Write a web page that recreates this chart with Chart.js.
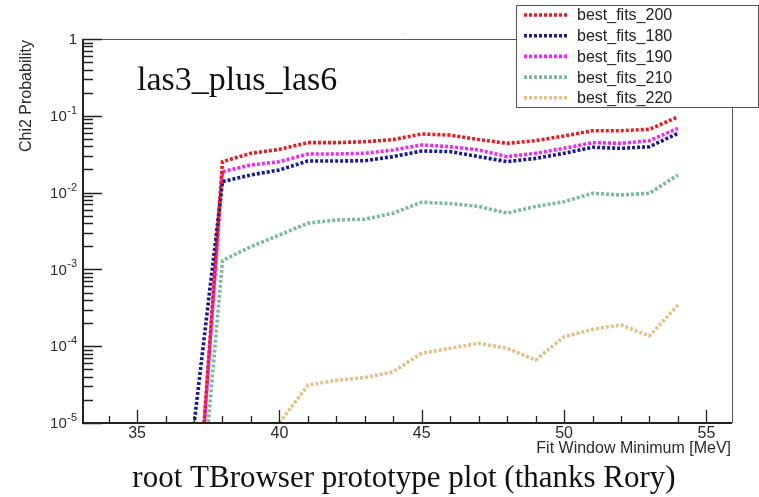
<!DOCTYPE html>
<html>
<head>
<meta charset="utf-8">
<script src="https://cdn.jsdelivr.net/npm/chart.js@4.4.1/dist/chart.umd.min.js"></script>
<style>
  body { margin: 0; background: #fff; }
  canvas { display: block; }
</style>
</head>
<body>
<canvas id="plot" width="759" height="497"></canvas>
<script>
// fit window minimum [MeV]
const fitMin = [35, 36, 37, 38, 39, 40, 41, 42, 43, 44, 45, 46, 47, 48, 49, 50, 51, 52, 53, 54]

// chi2 probability per fit set (null = not drawn)
const fits200 = [null, null, 1.3e-7, 0.0253, 0.0325, 0.0366, 0.0447, 0.0447, 0.046, 0.049, 0.058,
    0.056, 0.049, 0.0438, 0.0474, 0.0546, 0.064, 0.064, 0.0667, 0.097]
const fits180 = [null, null, 9.5e-6, 0.0139, 0.017, 0.0197, 0.0258, 0.0258, 0.026, 0.0294, 0.0348,
    0.0342, 0.0294, 0.0253, 0.0279, 0.0325, 0.0389, 0.0377, 0.0396, 0.059]
const fits190 = [null, null, 1.4e-7, 0.0187, 0.0229, 0.0253, 0.0318, 0.0318, 0.0325, 0.0359, 0.0417,
    0.0396, 0.0359, 0.0294, 0.0325, 0.0377, 0.0447, 0.0438, 0.0474, 0.0687]
const fits210 = [null, null, 7.4e-8, 0.0013, 0.00198, 0.0028, 0.004, 0.0044, 0.0045, 0.0054, 0.0075,
    0.0072, 0.0066, 0.0054, 0.0066, 0.0076, 0.0098, 0.0093, 0.0098, 0.017]
const fits220 = [null, null, null, null, null, 1.0e-5, 3.1e-5, 3.6e-5, 3.9e-5, 4.65e-5, 8.1e-5,
    9.4e-5, 1.09e-4, 9.4e-5, 6.6e-5, 1.33e-4, 1.66e-4, 1.89e-4, 1.36e-4, 3.44e-4]

const yDecades = [1, 1e-1, 1e-2, 1e-3, 1e-4, 1e-5]
const xMajor = [35, 40, 45, 50, 55]

const series = [
    { label: 'best_fits_200', values: fits200, color: '#e61d25' },
    { label: 'best_fits_180', values: fits180, color: '#1c1a8c' },
    { label: 'best_fits_190', values: fits190, color: '#ec2bec' },
    { label: 'best_fits_210', values: fits210, color: '#80b89d' },
    { label: 'best_fits_220', values: fits220, color: '#e3c08c' }
]

const SANS = '"Liberation Sans", Arial, Helvetica, sans-serif'
const SERIF = '"Liberation Serif", "Times New Roman", serif'

// ROOT-like frame: inward ticks, superscript decade labels, legend box and texts
const rootFrame = {
    id: 'rootFrame',
    beforeDraw(chart) {
        const ctx = chart.ctx
        ctx.save()
        ctx.fillStyle = '#fff'
        ctx.fillRect(0, 0, chart.width, chart.height)
        ctx.restore()
    },
    afterDraw(chart) {
        const ctx = chart.ctx
        const area = chart.chartArea
        const xs = chart.scales.x
        const ys = chart.scales.y
        ctx.save()

        // thin top and right frame
        ctx.strokeStyle = '#555'
        ctx.lineWidth = 1
        ctx.beginPath()
        ctx.moveTo(area.left, area.top + 0.5)
        ctx.lineTo(area.right + 0.5, area.top + 0.5)
        ctx.lineTo(area.right + 0.5, area.bottom)
        ctx.stroke()

        // main axes
        ctx.strokeStyle = '#222'
        ctx.lineWidth = 2
        ctx.beginPath()
        ctx.moveTo(area.left, area.top)
        ctx.lineTo(area.left, area.bottom)
        ctx.lineTo(area.right, area.bottom)
        ctx.stroke()

        // y ticks: decades and 2..9 minors
        ctx.lineWidth = 1.3
        ctx.beginPath()
        yDecades.forEach(d => {
            const py = Math.round(ys.getPixelForValue(d)) + 0.5
            ctx.moveTo(area.left, py)
            ctx.lineTo(area.left + 19, py)
            if (d < 1) {
                for (let m = 2; m <= 9; m++) {
                    const my = Math.round(ys.getPixelForValue(d * m)) + 0.5
                    ctx.moveTo(area.left, my)
                    ctx.lineTo(area.left + 10, my)
                }
            }
        })
        // x ticks on every integer
        for (let v = Math.ceil(xs.min); v <= xs.max; v++) {
            const px = Math.round(xs.getPixelForValue(v)) + 0.5
            const len = v % 5 === 0 ? 13 : 7
            ctx.moveTo(px, area.bottom)
            ctx.lineTo(px, area.bottom - len)
        }
        ctx.stroke()

        // y labels
        ctx.fillStyle = '#2a2a2a'
        ctx.textAlign = 'right'
        ctx.textBaseline = 'middle'
        const labelRight = area.left - 6
        yDecades.forEach(d => {
            const py = ys.getPixelForValue(d)
            if (d === 1) {
                ctx.font = '15px ' + SANS
                ctx.fillText('1', labelRight, py + 1)
                return
            }
            const exp = String(Math.round(Math.log10(d)))
            ctx.font = '11px ' + SANS
            const ew = ctx.measureText(exp).width
            ctx.fillText(exp, labelRight, py - 5)
            ctx.font = '15px ' + SANS
            ctx.fillText('10', labelRight - ew - 0.5, py + 1)
        })

        // x labels
        ctx.textAlign = 'center'
        ctx.font = '16px ' + SANS
        xMajor.forEach(v => {
            ctx.fillText(String(v), xs.getPixelForValue(v), area.bottom + 11)
        })

        // axis titles
        ctx.textAlign = 'right'
        ctx.fillText('Fit Window Minimum [MeV]', area.right - 1, area.bottom + 26)
        ctx.save()
        ctx.translate(27, area.top + 1)
        ctx.rotate(-Math.PI / 2)
        ctx.fillText('Chi2 Probability', 0, 0)
        ctx.restore()

        // legend box
        const box = { left: 516.5, top: 5.5, right: 758.5, bottom: 107.5 }
        ctx.fillStyle = '#fff'
        ctx.fillRect(box.left, box.top, box.right - box.left, box.bottom - box.top)
        ctx.strokeStyle = '#555'
        ctx.lineWidth = 1
        ctx.strokeRect(box.left, box.top, box.right - box.left, box.bottom - box.top)
        ctx.textAlign = 'left'
        ctx.font = '16px ' + SANS
        chart.data.datasets.forEach((ds, i) => {
            const ly = 15 + i * 20.7
            ctx.strokeStyle = ds.borderColor
            ctx.lineWidth = ds.borderWidth
            ctx.setLineDash(ds.borderDash)
            ctx.beginPath()
            ctx.moveTo(524, ly)
            ctx.lineTo(567, ly)
            ctx.stroke()
            ctx.setLineDash([])
            ctx.fillStyle = '#222'
            ctx.fillText(ds.label, 577, ly + 1)
        })

        // plot name and caption
        ctx.fillStyle = '#111'
        ctx.textBaseline = 'alphabetic'
        ctx.font = '34px ' + SERIF
        ctx.fillText('las3_plus_las6', 137, 90)
        ctx.textAlign = 'center'
        ctx.font = '31px ' + SERIF
        ctx.fillText('root TBrowser prototype plot (thanks Rory)', 404, 487)

        ctx.restore()
    }
}

new Chart(document.getElementById('plot'), {
    type: 'line',
    data: {
        datasets: series.map(s => ({
            label: s.label,
            data: fitMin.map((x, i) => ({ x: x, y: s.values[i] })),
            borderColor: s.color,
            borderWidth: 3.6,
            borderDash: [3, 2],
            borderCapStyle: 'butt',
            pointRadius: 0,
            tension: 0,
            fill: false
        }))
    },
    options: {
        responsive: false,
        animation: false,
        devicePixelRatio: 1,
        layout: { padding: { left: 83, top: 39, right: 27, bottom: 74 } },
        plugins: {
            legend: { display: false },
            tooltip: { enabled: false }
        },
        scales: {
            x: { type: 'linear', min: 33.1, max: 55.9, display: false },
            y: { type: 'logarithmic', min: 1e-5, max: 1, display: false }
        }
    },
    plugins: [rootFrame]
})
</script>
</body>
</html>
